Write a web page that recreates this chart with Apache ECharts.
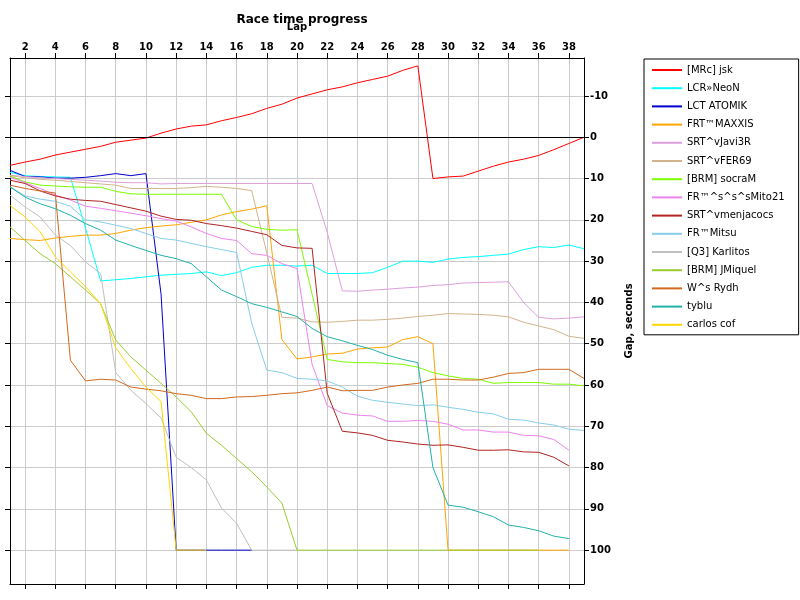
<!DOCTYPE html>
<html><head><meta charset="utf-8">
<script src="https://cdn.jsdelivr.net/npm/echarts@6/dist/echarts.min.js"></script>
<style>html,body{margin:0;padding:0;background:#fff}#c{width:800px;height:600px}</style>
</head><body><div id="c"></div>
<script>
const laps = [1,2,3,4,5,6,7,8,9,10,11,12,13,14,15,16,17,18,19,20,21,22,23,24,25,26,27,28,29,30,31,32,33,34,35,36,37,38,39];
const xTicks = [2,4,6,8,10,12,14,16,18,20,22,24,26,28,30,32,34,36,38];
const yTicks = [-10,0,10,20,30,40,50,60,70,80,90,100];
const names = ['[MRc] jsk','LCR»NeoN','LCT ATOMIK','FRT™MAXXIS','SRT^vJavi3R','SRT^vFER69','[BRM] socraM','FR™^s^s^sMito21','SRT^vmenjacocs','FR™Mitsu','[Q3] Karlitos','[BRM] JMiquel','W^s Rydh','tyblu','carlos cof'];
const colors = ['#FF0000','#00FFFF','#0000CD','#FFA500','#DDA0DD','#D2B48C','#7CFC00','#EE82EE','#B22222','#87CEEB','#C0C0C0','#9ACD32','#D2691E','#20B2AA','#FFD700'];
const jsk = [6.8,6.0,5.3,4.3,3.6,2.9,2.2,1.2,0.7,0.2,-1.0,-2.0,-2.7,-3.0,-4.0,-4.8,-5.7,-7.0,-8.0,-9.5,-10.5,-11.5,-12.2,-13.2,-14.0,-14.8,-16.2,-17.3,10.0,9.6,9.4,8.2,7.0,6.0,5.3,4.4,3.0,1.5,0];
const neon = [8.5,9.3,9.5,9.6,9.7,22,34.8,34.5,34.2,33.8,33.4,33.2,33,32.6,33.5,32.8,31.5,31,31,31.2,31,33,33,33,32.8,31.5,30,30,30.3,29.5,29.1,28.9,28.6,28.3,27.2,26.5,26.7,26.1,27];
const atomik = [8,9.5,9.6,9.9,9.9,9.7,9.3,8.8,9.3,8.8,38,100,100,100,100,100,100];
const maxxis = [24.5,24.8,25,24.4,24,23.7,23.7,23.3,22.5,21.9,21.5,21.2,20.6,20,18.8,18,17.4,16.6,49,53.7,53.2,52.5,52.3,51.3,51,50.8,49,48.3,50,100,100,100,100,100,100,100,100,100];
const javi = [9.2,9.5,9.8,10,10.2,10.4,10.6,10.9,11,11,11.3,11.2,11.2,11.2,11.2,11.2,11.2,11.2,11.2,11.2,11.2,23,37.2,37.3,37,36.8,36.5,36.3,35.9,35.7,35.3,35.2,35.1,35,40,43.6,44,43.8,43.5];
const fer = [9.3,9.8,10.2,10.4,10.7,11,11.3,11.6,12.4,12.4,12.4,12.4,12.2,11.9,12.1,12.4,12.9,28,43.6,43.8,44.7,44.8,44.6,44.3,44.3,44.1,43.8,43.4,43.1,42.7,42.8,42.9,43.1,43.5,44.8,45.7,46.6,48.2,48.7];
const socram = [9.4,10.8,11.6,11.8,12,12.1,12.1,13.1,13.7,13.8,13.8,13.8,13.8,13.8,13.8,20,21.6,22.3,22.5,22.4,38,53.8,54.4,54.6,54.6,54.8,55,55.7,57,57.8,58.4,58.6,59.6,59.4,59.4,59.4,59.8,59.8,60.2];
const mito = [9.7,11,12.4,14,15.2,16.7,17.2,17.8,18.4,19,19.7,20.3,21.7,23.3,24.5,25,28.2,28.6,30.6,31.8,55,65,66.8,67.3,67.5,68.8,68.8,68.6,68.8,69.5,70.9,70.9,71.4,71.4,72.2,72.3,73.2,75.8];
const menja = [10.4,11.2,13,14.2,15,15.3,15.5,16.3,17.1,17.9,19.1,19.9,20.1,20.9,21.4,22,22.8,23.6,26.2,26.8,26.9,62,71.2,71.6,72.2,73.4,73.8,74.3,74.6,74.5,75.1,75.8,75.8,75.7,76.2,76.3,77.5,79.6];
const mitsu = [12,14.2,15,15.5,16.7,20,20.5,21.3,22.1,23.3,24.5,24.9,25.7,26.5,27.2,27.9,45,56.4,57,58.4,58.6,59,60.5,62.7,63.7,64.2,64.6,65,64.8,65.4,65.9,66.6,67,68.3,68.5,69.2,69.7,70.7,71];
const karlitos = [14,16.9,19.3,23.7,26.2,30.2,33,57,61.3,64.5,68,77.5,80,83,89.8,93.5,100,100,100,100];
const jmiquel = [21.7,25,28.2,30.6,33.8,37,40.3,49.1,53.2,56.4,59.6,62.9,66.5,71.7,74.6,77.8,81,84.7,88.6,100,100,100,100,100,100,100,100,100,100,100,100,100,100,100,100,100];
const rydh = [11.6,12.4,13,13.5,54,59,58.6,58.8,60.5,61,61.4,62.1,62.5,63.3,63.3,62.9,62.8,62.5,62.1,61.9,61.3,60.5,61.4,61.3,61.3,60.5,60,59.6,58.6,58.6,58.8,58.8,58.1,57.2,57,56.2,56.2,56.2,58.4];
const tyblu = [12,14.5,16.1,17.3,18.9,20.9,22.5,24.9,26.2,27.4,28.6,29.4,30.6,33.8,37,38.6,40.3,41.2,42.3,43.4,46.3,48.3,49.3,50.4,51.4,52.8,53.8,54.6,80,89.1,89.6,90.7,91.9,93.9,94.5,95.3,96.6,97.2];
const carlos = [16.5,19.3,22.9,29,32.6,36.2,40.3,51,56,60.5,64,100,100,100];
const allVals = [jsk,neon,atomik,maxxis,javi,fer,socram,mito,menja,mitsu,karlitos,jmiquel,rydh,tyblu,carlos];

const chart = echarts.init(document.getElementById('c'));
const font = 'DejaVu Sans';
const series = allVals.map((v,i)=>({
  name: names[i], type:'line', showSymbol:false, symbol:'none', color: colors[i],
  lineStyle:{width:1, color: colors[i]}, animation:false, z: 2+i,
  data: v.map((y,k)=>[laps[k], y]),
  markLine: i===0 ? {silent:true, symbol:'none', label:{show:false}, lineStyle:{color:'#000', type:'solid', width:1}, data:[{yAxis:0}]} : undefined
}));
const xCommon = {type:'value', min:1, max:39,
  axisLine:{show:true, onZero:false, lineStyle:{color:'#000', width:1}},
  axisTick:{show:true, length:5, lineStyle:{color:'#000'}, customValues: xTicks},
  minorTick:{show:false}};
const yCommon = {type:'value', inverse:true, min:-19.2, max:108.2,
  axisLine:{show:true, onZero:false, lineStyle:{color:'#000', width:1}},
  axisTick:{show:true, length:5, lineStyle:{color:'#000'}, customValues: yTicks}};
chart.setOption({
  animation:false,
  backgroundColor:'#fff',
  title:{text:'Race time progress', left:297, top:9, textAlign:'center',
    textStyle:{fontFamily:font, fontSize:12, fontWeight:'bold', color:'#000'}},
  legend:{orient:'vertical', left:644, top:59, data:names,
    backgroundColor:'#fff', borderColor:'#000', borderWidth:1, padding:[5,14,4,8],
    icon:'rect', itemWidth:30, itemHeight:2, itemGap:6.2,
    textStyle:{fontFamily:font, fontSize:10, color:'#000', lineHeight:12}},
  grid:{left:10, right:216, top:58, bottom:16, containLabel:false},
  xAxis:[
    Object.assign({}, xCommon, {position:'top', name:'Lap', nameLocation:'middle', nameGap:26,
      nameTextStyle:{fontFamily:font, fontSize:10, fontWeight:'bold', color:'#000'},
      axisLabel:{customValues:xTicks, fontFamily:font, fontSize:10, fontWeight:'bold', color:'#000', margin:6},
      splitLine:{show:true, lineStyle:{color:'#ccc', width:1}}}),
    Object.assign({}, xCommon, {position:'bottom', axisLabel:{show:false}, splitLine:{show:false}})
  ],
  yAxis:[
    Object.assign({}, yCommon, {position:'right', name:'Gap, seconds', nameLocation:'middle', nameGap:40, nameRotate:90,
      nameTextStyle:{fontFamily:font, fontSize:10, fontWeight:'bold', color:'#000'},
      axisLabel:{customValues:yTicks, fontFamily:font, fontSize:10, fontWeight:'bold', color:'#000', margin:6},
      splitLine:{show:true, lineStyle:{color:'#ccc', width:1}}}),
    Object.assign({}, yCommon, {position:'left', axisLabel:{show:false}, splitLine:{show:false}})
  ],
  series: series
});
</script></body></html>
